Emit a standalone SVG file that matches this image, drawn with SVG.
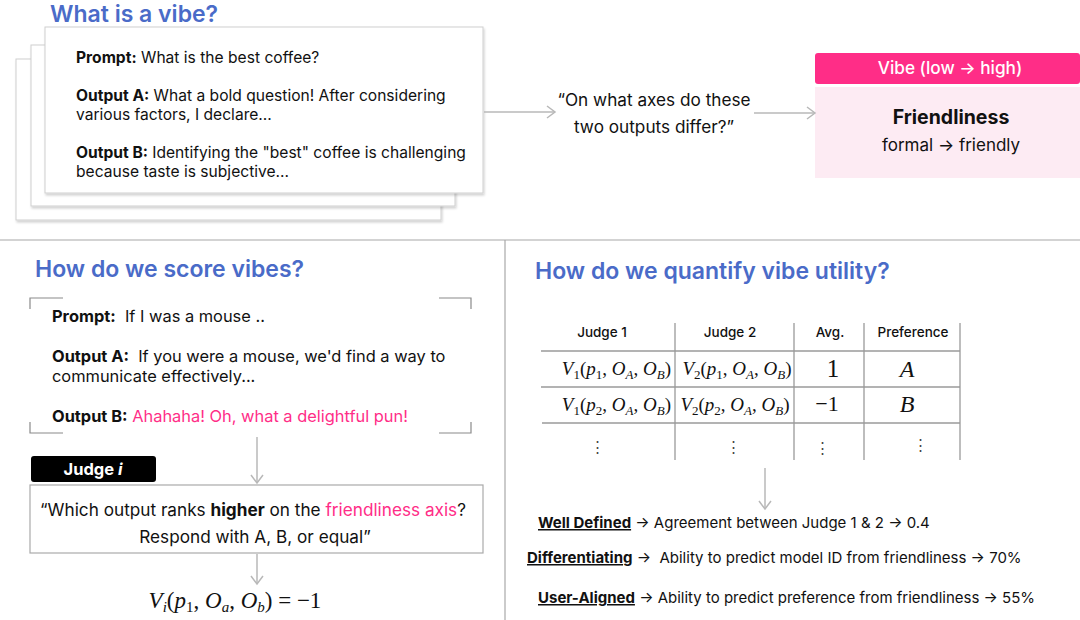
<svg xmlns="http://www.w3.org/2000/svg" width="1080" height="620" viewBox="0 0 1080 620">
<defs>
<style>
.t{font-family:Inter,"Noto Sans","Liberation Sans",sans-serif;fill:#111;}
.h{font-family:Inter,"Noto Sans","Liberation Sans",sans-serif;fill:#4a6bc8;font-weight:600;font-size:23px;}
.b{font-weight:700;}
.pk{fill:#ff2d87;}
.m{font-family:"Liberation Serif","DejaVu Serif",serif;fill:#111;font-size:19px;}
.i{font-style:italic;}
.card{fill:#fff;stroke:#cfcfcf;stroke-width:1;}
.rule{stroke:#a8a8a8;stroke-width:1.2;fill:none;}
.br{stroke:#8a8a8a;stroke-width:1.2;fill:none;}
.tl{stroke:#9a9a9a;stroke-width:1.3;}
.arr{stroke:#b8b8b8;stroke-width:1.5;fill:none;marker-end:url(#ah);}
.u{text-decoration:underline;}
</style>
<marker id="ah" markerWidth="12" markerHeight="14" refX="9" refY="7" orient="auto" markerUnits="userSpaceOnUse">
<path d="M1,1 L9,7 L1,13" fill="none" stroke="#b8b8b8" stroke-width="1.5"/>
</marker>
<filter id="sh" x="-5%" y="-5%" width="112%" height="115%">
<feDropShadow dx="1" dy="2" stdDeviation="1.2" flood-color="#000" flood-opacity="0.18"/>
</filter>
</defs>
<rect width="1080" height="620" fill="#fff"/>

<!-- dividers -->
<g id="dividers">
<line class="rule" x1="0" y1="240" x2="1080" y2="240"/>
<line class="rule" x1="505" y1="240" x2="505" y2="620"/>
</g>

<!-- titles -->
<text class="h" x="50" y="22">What is a vibe?</text>
<text class="h" x="35" y="277">How do we score vibes?</text>
<text class="h" x="535" y="279">How do we quantify vibe utility?</text>

<!-- stacked example cards -->
<g id="example-cards">
<rect class="card" x="16" y="59" width="425" height="161" filter="url(#sh)"/>
<rect class="card" x="31" y="45" width="424" height="161" filter="url(#sh)"/>
<rect class="card" x="45" y="27" width="438" height="166" filter="url(#sh)"/>
<text class="t" font-size="15.6"><tspan x="76" y="63"><tspan class="b">Prompt:</tspan> What is the best coffee?</tspan></text>
<text class="t" font-size="15.6"><tspan x="76" y="101"><tspan class="b">Output A:</tspan> What a bold question! After considering</tspan><tspan x="76" y="120">various factors, I declare...</tspan></text>
<text class="t" font-size="15.6"><tspan x="76" y="158"><tspan class="b">Output B:</tspan> Identifying the "best" coffee is challenging</tspan><tspan x="76" y="177">because taste is subjective...</tspan></text>
</g>

<g id="question">
<text class="t" font-size="17.2" text-anchor="middle"><tspan x="654" y="106">“On what axes do these</tspan><tspan x="654" y="133">two outputs differ?”</tspan></text>
</g>

<g id="vibe-box">
<rect x="815" y="53" width="265" height="31" rx="3" fill="#ff2d87"/>
<text class="t" x="950" y="74" font-size="17.2" text-anchor="middle" style="fill:#fff;font-weight:500">Vibe (low → high)</text>
<rect x="815" y="87" width="265" height="91" fill="#fdebf3"/>
<text class="t b" x="951" y="124" font-size="19.5" text-anchor="middle">Friendliness</text>
<text class="t" x="951" y="151" font-size="17" text-anchor="middle">formal → friendly</text>
</g>

<!-- score vibes example -->
<g id="mouse-example">
<path class="br" d="M30,309 V298 H63 M439,298 H471 V309 M30,422 V433 H63 M439,433 H471 V422"/>
<text class="t" font-size="16.4"><tspan x="52" y="322"><tspan class="b">Prompt:</tspan>&#160; If I was a mouse ..</tspan></text>
<text class="t" font-size="16.4"><tspan x="52" y="362"><tspan class="b">Output A:</tspan>&#160; If you were a mouse, we'd find a way to</tspan><tspan x="52" y="382">communicate effectively...</tspan></text>
<text class="t" font-size="16.4"><tspan x="52" y="422"><tspan class="b">Output B:</tspan> <tspan class="pk">Ahahaha! Oh, what a delightful pun!</tspan></tspan></text>
</g>

<g id="judge-label">
<rect x="31" y="456" width="125" height="26" rx="3" fill="#000"/>
<text class="t b" x="93" y="475" font-size="16.5" text-anchor="middle" style="fill:#fff">Judge <tspan class="i">i</tspan></text>
</g>

<g id="judge-prompt">
<rect x="30" y="485" width="453" height="68" fill="#fff" stroke="#aaa" stroke-width="1.2"/>
<text class="t" font-size="17.2" text-anchor="middle"><tspan x="253" y="516">“Which output ranks <tspan class="b">higher</tspan> on the <tspan class="pk">friendliness axis</tspan>?</tspan><tspan x="255" y="543">Respond with A, B, or equal”</tspan></text>
</g>

<g id="score-formula">
<text class="m" x="235" y="608" text-anchor="middle" style="font-size:23px"><tspan class="i">V</tspan><tspan dy="4" style="font-size:15px" class="i">i</tspan><tspan dy="-4">(</tspan><tspan class="i">p</tspan><tspan dy="4" style="font-size:15px">1</tspan><tspan dy="-4">, </tspan><tspan class="i">O</tspan><tspan dy="4" style="font-size:15px" class="i">a</tspan><tspan dy="-4">, </tspan><tspan class="i">O</tspan><tspan dy="4" style="font-size:15px" class="i">b</tspan><tspan dy="-4">) = −1</tspan></text>
</g>

<!-- table -->
<g id="utility-table">
<line class="tl" x1="675" y1="323" x2="675" y2="460"/>
<line class="tl" x1="794" y1="323" x2="794" y2="460"/>
<line class="tl" x1="864" y1="323" x2="864" y2="460"/>
<line class="tl" x1="960" y1="323" x2="960" y2="460"/>
<line class="tl" x1="541" y1="351" x2="960" y2="351"/>
<line class="tl" x1="541" y1="387" x2="960" y2="387"/>
<line class="tl" x1="542" y1="423" x2="960" y2="423"/>
<g class="t" font-size="13.5" text-anchor="middle" style="font-weight:500">
<text x="602" y="337">Judge 1</text>
<text x="730" y="337">Judge 2</text>
<text x="830" y="337">Avg.</text>
<text x="913" y="337">Preference</text>
</g>
<text class="m" x="671" y="375" text-anchor="end"><tspan class="i">V</tspan><tspan dy="4" style="font-size:13px">1</tspan><tspan dy="-4">(</tspan><tspan class="i">p</tspan><tspan dy="4" style="font-size:13px">1</tspan><tspan dy="-4">, </tspan><tspan class="i">O</tspan><tspan dy="4" style="font-size:13px" class="i">A</tspan><tspan dy="-4">, </tspan><tspan class="i">O</tspan><tspan dy="4" style="font-size:13px" class="i">B</tspan><tspan dy="-4">)</tspan></text>
<text class="m" x="737" y="375" text-anchor="middle"><tspan class="i">V</tspan><tspan dy="4" style="font-size:13px">2</tspan><tspan dy="-4">(</tspan><tspan class="i">p</tspan><tspan dy="4" style="font-size:13px">1</tspan><tspan dy="-4">, </tspan><tspan class="i">O</tspan><tspan dy="4" style="font-size:13px" class="i">A</tspan><tspan dy="-4">, </tspan><tspan class="i">O</tspan><tspan dy="4" style="font-size:13px" class="i">B</tspan><tspan dy="-4">)</tspan></text>
<text class="m" x="671" y="411" text-anchor="end"><tspan class="i">V</tspan><tspan dy="4" style="font-size:13px">1</tspan><tspan dy="-4">(</tspan><tspan class="i">p</tspan><tspan dy="4" style="font-size:13px">2</tspan><tspan dy="-4">, </tspan><tspan class="i">O</tspan><tspan dy="4" style="font-size:13px" class="i">A</tspan><tspan dy="-4">, </tspan><tspan class="i">O</tspan><tspan dy="4" style="font-size:13px" class="i">B</tspan><tspan dy="-4">)</tspan></text>
<text class="m" x="735" y="411" text-anchor="middle"><tspan class="i">V</tspan><tspan dy="4" style="font-size:13px">2</tspan><tspan dy="-4">(</tspan><tspan class="i">p</tspan><tspan dy="4" style="font-size:13px">2</tspan><tspan dy="-4">, </tspan><tspan class="i">O</tspan><tspan dy="4" style="font-size:13px" class="i">A</tspan><tspan dy="-4">, </tspan><tspan class="i">O</tspan><tspan dy="4" style="font-size:13px" class="i">B</tspan><tspan dy="-4">)</tspan></text>
<text class="m" x="833" y="377" text-anchor="middle" style="font-size:25px">1</text>
<text class="m i" x="907" y="377" text-anchor="middle" style="font-size:24px">A</text>
<text class="m" x="827" y="411" text-anchor="middle" style="font-size:22px">−1</text>
<text class="m i" x="907" y="412" text-anchor="middle" style="font-size:24px">B</text>
<g class="m" text-anchor="middle" style="font-size:15px;fill:#444">
<text x="597" y="452">⋮</text>
<text x="733" y="452">⋮</text>
<text x="822" y="453">⋮</text>
<text x="920" y="450">⋮</text>
</g>
</g>

<g id="criteria">
<text class="t" font-size="15"><tspan x="538" y="528"><tspan class="b u">Well Defined</tspan> → Agreement between Judge 1 &amp; 2 → 0.4</tspan></text>
<text class="t" font-size="15"><tspan x="527" y="563"><tspan class="b u">Differentiating</tspan> →&#160; Ability to predict model ID from friendliness → 70%</tspan></text>
<text class="t" font-size="15"><tspan x="538" y="603"><tspan class="b u">User-Aligned</tspan> → Ability to predict preference from friendliness → 55%</tspan></text>
</g>

<!-- connectors -->
<g id="connectors">
<path class="arr" d="M484,112 H555"/>
<path class="arr" d="M754,113 H815"/>
<path class="arr" d="M257,437 V483"/>
<path class="arr" d="M257,554 V584"/>
<path class="arr" d="M765,468 V509"/>
</g>
</svg>
